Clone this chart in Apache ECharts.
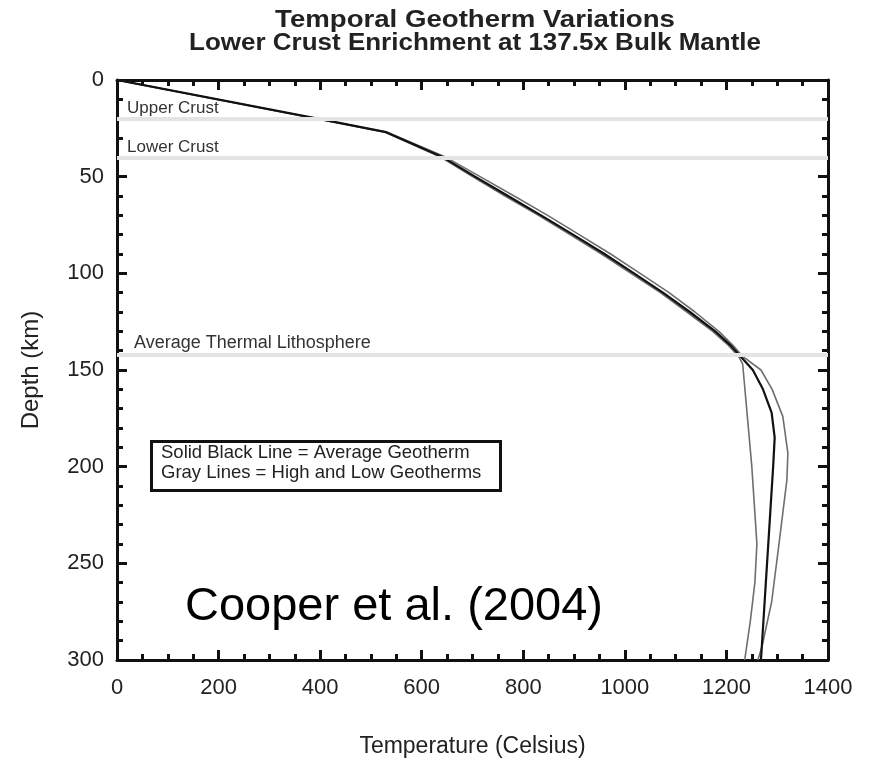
<!DOCTYPE html>
<html>
<head>
<meta charset="utf-8">
<script src="https://cdn.jsdelivr.net/npm/echarts@6/dist/echarts.min.js"></script>
<style>
  html, body { margin: 0; padding: 0; background: #fff; }
  #chart { width: 870px; height: 772px; }
</style>
</head>
<body>
<div id="chart"></div>
<script>
// Temperature axis ticks (Celsius) and depth axis ticks (km)
const tempTicks = [0, 200, 400, 600, 800, 1000, 1200, 1400];
const depthTicks = [0, 50, 100, 150, 200, 250, 300];

// Average geotherm (solid black)
const avgDepth = [0, 20, 27, 40, 50, 60, 70, 80, 90, 100, 110, 120, 130, 137, 143, 150, 160, 172, 185, 200, 250, 300];
const avgTemp  = [0, 395, 530, 642, 705, 770, 835, 898, 960, 1018, 1075, 1128, 1178, 1207, 1228, 1252, 1272, 1289, 1295, 1292, 1280, 1268];

// High geotherm (gray)
const highDepth = [0, 20, 27, 40, 50, 60, 70, 80, 90, 100, 110, 120, 130, 137, 143, 150, 160, 174, 193, 207, 241, 270, 293, 300];
const highTemp  = [0, 395, 532, 648, 715, 782, 848, 910, 972, 1030, 1087, 1138, 1185, 1212, 1232, 1268, 1290, 1311, 1321, 1319, 1303, 1289, 1270, 1262];

// Low geotherm (gray)
const lowDepth = [0, 20, 27, 40, 50, 60, 70, 80, 90, 100, 110, 120, 130, 137, 143, 147, 200, 240, 260, 280, 300];
const lowTemp  = [0, 393, 528, 638, 700, 764, 830, 892, 954, 1012, 1070, 1122, 1173, 1203, 1224, 1232, 1250, 1260, 1256, 1247, 1236];

// Layer boundaries (km)
const layerNames = ['Upper Crust', 'Lower Crust', 'Average Thermal Lithosphere'];
const layerDepths = [20, 40, 142];

const titleLines = ['Temporal Geotherm Variations', 'Lower Crust Enrichment at 137.5x Bulk Mantle'];
const legendLines = ['Solid Black Line = Average Geotherm', 'Gray Lines = High and Low Geotherms'];
const creditText = 'Cooper et al. (2004)';

const FONT = '"Liberation Sans", Arial, Helvetica, sans-serif';
const pairs = (t, d) => t.map((v, i) => [v, d[i]]);

const chart = echarts.init(document.getElementById('chart'), null, { renderer: 'canvas' });

const axisCommon = {
  type: 'value',
  axisLine: { show: true, onZero: false, lineStyle: { color: '#111', width: 3 } },
  axisTick: { show: true, inside: true, length: 10, lineStyle: { color: '#111', width: 3 } },
  minorTick: { show: true, length: 6, lineStyle: { color: '#111', width: 3 } },
  splitLine: { show: false },
  minorSplitLine: { show: false }
};

// per-label styling of the layer boundary captions
const layerLabel = [
  { fontSize: 17, distance: [10, 2] },
  { fontSize: 17, distance: [10, 2] },
  { fontSize: 18, distance: [17, 3] }
];

const option = {
  backgroundColor: '#fff',
  animation: false,
  grid: { left: 117, top: 80, width: 711, height: 580, show: false },
  xAxis: [
    Object.assign({}, axisCommon, {
      position: 'bottom', min: 0, max: 1400, interval: 200,
      minorTick: Object.assign({}, axisCommon.minorTick, { splitNumber: 4 }),
      axisLabel: { show: true, margin: 17, fontFamily: FONT, fontSize: 22, color: '#222',
        formatter: v => tempTicks.includes(v) ? String(v) : '' },
      name: 'Temperature (Celsius)', nameLocation: 'middle', nameGap: 75,
      nameTextStyle: { fontFamily: FONT, fontSize: 23, color: '#222' }
    }),
    Object.assign({}, axisCommon, {
      position: 'top', min: 0, max: 1400, interval: 200,
      minorTick: Object.assign({}, axisCommon.minorTick, { splitNumber: 4 }),
      axisLabel: { show: false }
    })
  ],
  yAxis: [
    Object.assign({}, axisCommon, {
      position: 'left', min: 0, max: 300, interval: 50, inverse: true,
      minorTick: Object.assign({}, axisCommon.minorTick, { splitNumber: 5 }),
      axisLabel: { show: true, margin: 13, fontFamily: FONT, fontSize: 22, color: '#222',
        formatter: v => depthTicks.includes(v) ? String(v) : '' },
      name: 'Depth (km)', nameLocation: 'middle', nameGap: 74, nameRotate: 90,
      nameTextStyle: { fontFamily: FONT, fontSize: 24, color: '#222' }
    }),
    Object.assign({}, axisCommon, {
      position: 'right', min: 0, max: 300, interval: 50, inverse: true,
      minorTick: Object.assign({}, axisCommon.minorTick, { splitNumber: 5 }),
      axisLabel: { show: false }
    })
  ],
  series: [
    {
      name: 'Low', type: 'line', data: pairs(lowTemp, lowDepth), showSymbol: false, symbol: 'none',
      lineStyle: { color: '#6e6e6e', width: 1.6 }, z: 2
    },
    {
      name: 'High', type: 'line', data: pairs(highTemp, highDepth), showSymbol: false, symbol: 'none',
      lineStyle: { color: '#6e6e6e', width: 1.6 }, z: 2
    },
    {
      name: 'Average', type: 'line', data: pairs(avgTemp, avgDepth), showSymbol: false, symbol: 'none',
      lineStyle: { color: '#111', width: 2.2 }, z: 3
    },
    {
      name: 'Layers', type: 'line', data: [], z: 5,
      markLine: {
        silent: true, symbol: ['none', 'none'], animation: false,
        lineStyle: { color: '#e4e4e4', width: 4, type: 'solid' },
        label: {
          show: true, position: 'insideStartTop',
          fontFamily: FONT, color: '#333',
          formatter: p => p.name
        },
        data: layerDepths.map((d, i) => ({
          name: layerNames[i], yAxis: d,
          label: layerLabel[i]
        }))
      }
    }
  ],
  graphic: [
    {
      type: 'text', x: 475, y: 9, scaleX: 1.2, z: 11,
      style: { text: titleLines[0], x: 0, y: 0, textAlign: 'center',
        fontFamily: FONT, fontWeight: 'bold', fontSize: 23, fill: '#222' }
    },
    {
      type: 'text', x: 475, y: 32, scaleX: 1.13, z: 11,
      style: { text: titleLines[1], x: 0, y: 0, textAlign: 'center',
        fontFamily: FONT, fontWeight: 'bold', fontSize: 23, fill: '#222' }
    },
    {
      type: 'rect', left: 150, top: 440, z: 10,
      shape: { width: 349, height: 49 },
      style: { fill: '#fff', stroke: '#111', lineWidth: 3 }
    },
    {
      type: 'text', left: 161, top: 443, z: 11,
      style: { text: legendLines.join('\n'),
        fontFamily: FONT, fontSize: 18.5, lineHeight: 20, fill: '#222' }
    },
    {
      type: 'text', left: 185, top: 584, z: 11,
      style: { text: creditText, fontFamily: FONT, fontSize: 47, fill: '#000' }
    }
  ]
};

chart.setOption(option);
</script>
</body>
</html>
